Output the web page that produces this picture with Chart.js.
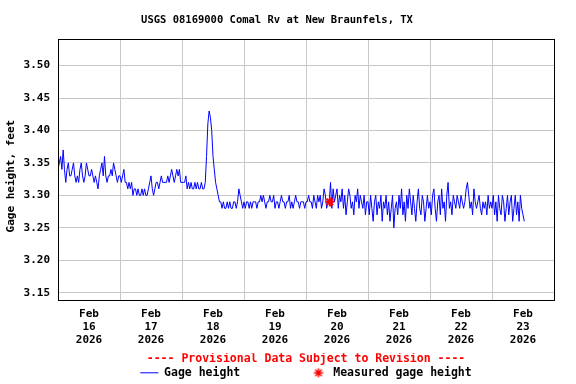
<!DOCTYPE html>
<html><head><meta charset="utf-8">
<script src="https://cdn.jsdelivr.net/npm/chart.js@4.4.1/dist/chart.umd.min.js"></script>
<style>html,body{margin:0;padding:0;background:#fff;}canvas{display:block;}</style>
</head><body>
<canvas id="c" width="576" height="384"></canvas>
<script>
// Gage height (feet), one value every 30 minutes, per day
const feb16 = [3.34,3.35,3.36,3.34,3.37,3.34,3.32,3.34,3.35,3.33,3.33,3.34,3.35,3.33,3.32,3.33,3.32,3.34,3.35,3.33,3.32,3.33,3.35,3.34,3.33,3.33,3.34,3.33,3.32,3.33,3.32,3.31,3.33,3.34,3.35,3.33,3.36,3.33,3.32,3.33,3.33,3.34,3.33,3.35,3.34,3.33,3.32,3.33];
const feb17 = [3.33,3.32,3.33,3.34,3.32,3.32,3.31,3.32,3.31,3.32,3.30,3.31,3.31,3.30,3.31,3.30,3.30,3.31,3.30,3.31,3.30,3.30,3.31,3.32,3.33,3.31,3.30,3.31,3.32,3.32,3.31,3.32,3.33,3.32,3.32,3.32,3.32,3.33,3.32,3.33,3.34,3.33,3.32,3.33,3.34,3.33,3.34,3.32];
const feb18 = [3.32,3.32,3.32,3.33,3.31,3.32,3.31,3.32,3.31,3.31,3.32,3.31,3.32,3.31,3.31,3.32,3.31,3.31,3.32,3.36,3.41,3.43,3.42,3.40,3.36,3.34,3.32,3.31,3.30,3.29,3.29,3.28,3.29,3.28,3.28,3.29,3.28,3.29,3.28,3.28,3.29,3.29,3.28,3.29,3.31,3.30,3.29,3.28];
const feb19 = [3.29,3.28,3.29,3.29,3.28,3.29,3.28,3.29,3.29,3.29,3.28,3.29,3.29,3.30,3.29,3.30,3.29,3.28,3.29,3.29,3.30,3.29,3.29,3.30,3.28,3.29,3.29,3.28,3.29,3.30,3.29,3.29,3.28,3.29,3.29,3.30,3.28,3.29,3.28,3.29,3.30,3.29,3.29,3.28,3.29,3.29,3.29,3.28];
const feb20 = [3.29,3.29,3.30,3.29,3.29,3.28,3.30,3.29,3.28,3.30,3.29,3.30,3.28,3.29,3.31,3.30,3.28,3.29,3.29,3.32,3.28,3.31,3.29,3.30,3.31,3.28,3.30,3.29,3.31,3.28,3.30,3.27,3.29,3.31,3.30,3.28,3.29,3.27,3.30,3.29,3.31,3.28,3.30,3.29,3.28,3.30,3.27,3.29];
const feb21 = [3.29,3.27,3.30,3.28,3.26,3.29,3.30,3.27,3.29,3.28,3.30,3.26,3.29,3.28,3.30,3.27,3.29,3.26,3.28,3.30,3.25,3.28,3.29,3.27,3.30,3.28,3.31,3.27,3.29,3.26,3.30,3.28,3.31,3.29,3.27,3.30,3.28,3.26,3.29,3.31,3.28,3.27,3.30,3.29,3.26,3.28,3.30,3.28];
const feb22 = [3.29,3.27,3.30,3.31,3.28,3.26,3.29,3.30,3.27,3.31,3.28,3.29,3.26,3.30,3.32,3.28,3.29,3.27,3.30,3.29,3.28,3.30,3.29,3.28,3.30,3.29,3.28,3.29,3.31,3.32,3.30,3.28,3.29,3.27,3.31,3.29,3.28,3.29,3.30,3.28,3.27,3.29,3.28,3.29,3.27,3.30,3.28,3.29];
const feb23 = [3.28,3.30,3.27,3.29,3.26,3.30,3.28,3.27,3.30,3.29,3.26,3.28,3.30,3.27,3.29,3.30,3.26,3.28,3.30,3.27,3.29,3.26,3.30,3.28,3.27,3.26];

// Measured gage height (days since Feb 16 00:00, feet)
const measuredX = [4.385];
const measuredY = [3.29];

// Axis labels
const monthLabel = 'Feb';
const dayLabels = ['16','17','18','19','20','21','22','23'];
const yearLabel = '2026';
const yTicks = [3.15, 3.20, 3.25, 3.30, 3.35, 3.40, 3.45, 3.50];

const stepDays = 1 / 48;
const gage = [feb16, feb17, feb18, feb19, feb20, feb21, feb22, feb23].flat().map((v, i) => ({x: i * stepDays, y: v}));
const measured = measuredX.map((x, i) => ({x: x, y: measuredY[i]}));

const halfSteps = [];
for (let k = 0; k <= 16; k++) halfSteps.push(k / 2);

const FONT = '"DejaVu Sans Mono", "Liberation Mono", monospace';
Chart.defaults.font.family = FONT;
Chart.defaults.font.weight = 'bold';
Chart.defaults.color = '#000';

// legend star icon
const starImg = document.createElement('canvas');
starImg.width = 12; starImg.height = 12;
(function () {
  const s = starImg.getContext('2d');
  s.strokeStyle = '#ff0000'; s.lineWidth = 1.5;
  const r = 4.6;
  s.beginPath();
  for (let a = 0; a < 4; a++) {
    const t = a * Math.PI / 4;
    s.moveTo(6 - Math.cos(t) * r, 6 - Math.sin(t) * r);
    s.lineTo(6 + Math.cos(t) * r, 6 + Math.sin(t) * r);
  }
  s.stroke();
})();

const frame = {
  id: 'frame',
  afterDatasetsDraw(chart) {
    const {ctx, chartArea: a} = chart;
    ctx.save();
    ctx.strokeStyle = '#000'; ctx.lineWidth = 1;
    const l = Math.round(a.left) + 0.5, t = Math.round(a.top) + 0.5;
    const r = Math.round(a.right) + 0.5, b = Math.round(a.bottom) + 0.5;
    ctx.strokeRect(l, t, r - l, b - t);
    ctx.restore();
  }
};

new Chart(document.getElementById('c'), {
  data: {
    datasets: [
      {type: 'line', label: 'Measured gage height', data: measured, showLine: false,
       pointStyle: 'star', pointRadius: 4.6, borderColor: '#ff0000', backgroundColor: '#ff0000',
       pointBorderWidth: 2, order: 0},
      {type: 'line', label: 'Gage height', data: gage, borderColor: '#0000ff', borderWidth: 1,
       pointRadius: 0, tension: 0, fill: false, order: 1}
    ]
  },
  options: {
    responsive: false, animation: false, events: [],
    layout: {padding: {top: 0, left: 0, right: 22, bottom: -4.55}},
    scales: {
      x: {
        type: 'linear', min: 0, max: 8,
        afterFit(s) { s.height = 53.25; },
        afterBuildTicks(s) { s.ticks = halfSteps.map(v => ({value: v})); },
        ticks: {
          autoSkip: false, maxRotation: 0, minRotation: 0, padding: 7.5,
          font: {size: 11, weight: 'bold', lineHeight: 1.1727}, color: '#000',
          callback: (v) => (Math.abs((v % 1) - 0.5) < 1e-6) ? [monthLabel, dayLabels[Math.floor(v)], yearLabel] : ''
        },
        grid: {drawTicks: false, color: (c) => (c.tick && Number.isInteger(c.tick.value)) ? '#c8c8c8' : 'rgba(0,0,0,0)'},
        border: {color: '#000'}
      },
      y: {
        type: 'linear', min: 3.1387, max: 3.541,
        afterFit(s) { s.width = 58; },
        afterBuildTicks(s) { s.ticks = yTicks.map(v => ({value: v})); },
        ticks: {padding: 8, font: {size: 11, weight: 'bold'}, color: '#000', callback: (v) => Number(v).toFixed(2)},
        grid: {drawTicks: false, color: '#c8c8c8'},
        border: {color: '#000'},
        title: {display: true, text: 'Gage height, feet  ', font: {size: 11, weight: 'bold'}, padding: {top: 5, bottom: 0}, color: '#000'}
      }
    },
    plugins: {
      title: {display: true, text: 'USGS 08169000 Comal Rv at New Braunfels, TX', color: '#000',
              font: {size: 10.5, weight: 'bold', lineHeight: 1.2}, padding: {top: 14, bottom: 12.4}},
      tooltip: {enabled: false},
      legend: {
        display: true, position: 'bottom', fullSize: false, align: 'center',
        title: {display: true, text: '---- Provisional Data Subject to Revision ----', color: '#ff0000',
                font: {size: 11.5, weight: 'bold', lineHeight: 1.2}, padding: 0},
        labels: {
          usePointStyle: true, pointStyleWidth: 18, boxHeight: 7, padding: 0,
          font: {size: 11.5, weight: 'bold'}, color: '#000',
          generateLabels: () => [
            {text: 'Gage height' + ' '.repeat(10), fillStyle: '#0000ff', strokeStyle: '#0000ff', lineWidth: 1,
             pointStyle: 'line', hidden: false, datasetIndex: 1, fontColor: '#000'},
            {text: 'Measured gage height', fillStyle: '#ff0000', strokeStyle: '#ff0000', lineWidth: 1.5,
             pointStyle: starImg, hidden: false, datasetIndex: 0, fontColor: '#000'}
          ]
        }
      }
    }
  },
  plugins: [frame]
});
</script>
</body></html>
